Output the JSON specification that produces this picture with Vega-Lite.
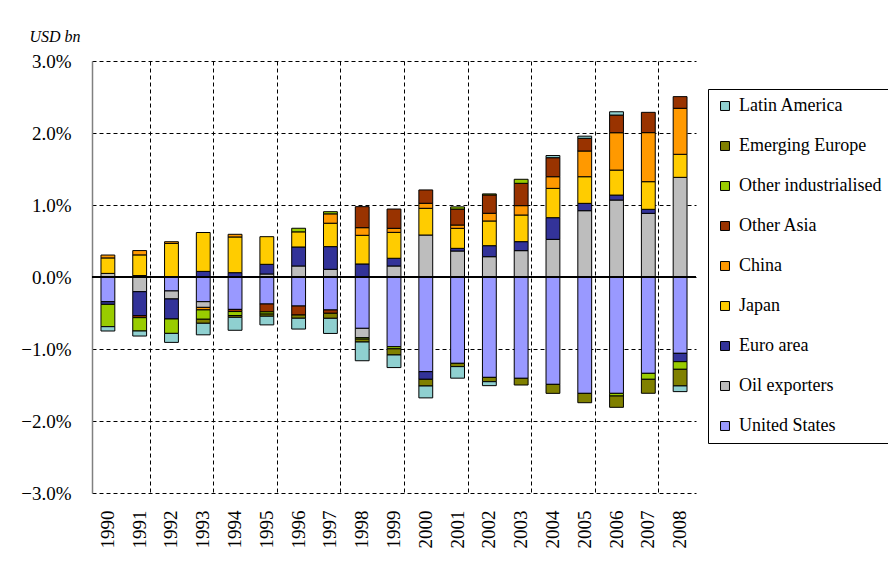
{
  "$schema": "https://vega.github.io/schema/vega-lite/v6.json",
  "width": 604,
  "height": 432,
  "autosize": "none",
  "padding": {"left": 92, "top": 61, "right": 192, "bottom": 71},
  "background": "white",
  "config": {"view": {"stroke": null}, "font": "Times New Roman, Liberation Serif, serif"},
  "datasets": {
    "regions": [
      {"region": "United States", "rank": 1},
      {"region": "Oil exporters", "rank": 2},
      {"region": "Euro area", "rank": 3},
      {"region": "Japan", "rank": 4},
      {"region": "China", "rank": 5},
      {"region": "Other Asia", "rank": 6},
      {"region": "Other industrialised", "rank": 7},
      {"region": "Emerging Europe", "rank": 8},
      {"region": "Latin America", "rank": 9}
    ],
    "cab": [
      {"year": "1990", "region": "United States", "value": -0.343},
      {"year": "1990", "region": "Oil exporters", "value": 0.05},
      {"year": "1990", "region": "Euro area", "value": -0.037},
      {"year": "1990", "region": "Japan", "value": 0.215},
      {"year": "1990", "region": "China", "value": 0.04},
      {"year": "1990", "region": "Other industrialised", "value": -0.31},
      {"year": "1990", "region": "Latin America", "value": -0.06},

      {"year": "1991", "region": "United States", "value": 0.02},
      {"year": "1991", "region": "Oil exporters", "value": -0.204},
      {"year": "1991", "region": "Euro area", "value": -0.333},
      {"year": "1991", "region": "Japan", "value": 0.287},
      {"year": "1991", "region": "China", "value": 0.06},
      {"year": "1991", "region": "Other Asia", "value": -0.028},
      {"year": "1991", "region": "Other industrialised", "value": -0.185},
      {"year": "1991", "region": "Latin America", "value": -0.07},

      {"year": "1992", "region": "United States", "value": -0.194},
      {"year": "1992", "region": "Oil exporters", "value": -0.111},
      {"year": "1992", "region": "Euro area", "value": -0.278},
      {"year": "1992", "region": "Japan", "value": 0.467},
      {"year": "1992", "region": "China", "value": 0.023},
      {"year": "1992", "region": "Other industrialised", "value": -0.2},
      {"year": "1992", "region": "Latin America", "value": -0.125},

      {"year": "1993", "region": "United States", "value": -0.343},
      {"year": "1993", "region": "Oil exporters", "value": -0.079},
      {"year": "1993", "region": "Euro area", "value": 0.078},
      {"year": "1993", "region": "Japan", "value": 0.54},
      {"year": "1993", "region": "China", "value": -0.035},
      {"year": "1993", "region": "Other industrialised", "value": -0.13},
      {"year": "1993", "region": "Emerging Europe", "value": -0.056},
      {"year": "1993", "region": "Latin America", "value": -0.16},

      {"year": "1994", "region": "United States", "value": -0.45},
      {"year": "1994", "region": "Euro area", "value": 0.06},
      {"year": "1994", "region": "Japan", "value": 0.496},
      {"year": "1994", "region": "China", "value": 0.037},
      {"year": "1994", "region": "Other Asia", "value": -0.03},
      {"year": "1994", "region": "Other industrialised", "value": -0.055},
      {"year": "1994", "region": "Emerging Europe", "value": -0.025},
      {"year": "1994", "region": "Latin America", "value": -0.18},

      {"year": "1995", "region": "United States", "value": -0.375},
      {"year": "1995", "region": "Oil exporters", "value": 0.042},
      {"year": "1995", "region": "Euro area", "value": 0.134},
      {"year": "1995", "region": "Japan", "value": 0.384},
      {"year": "1995", "region": "Other Asia", "value": -0.11},
      {"year": "1995", "region": "Other industrialised", "value": -0.03},
      {"year": "1995", "region": "Emerging Europe", "value": -0.03},
      {"year": "1995", "region": "Latin America", "value": -0.12},

      {"year": "1996", "region": "United States", "value": -0.403},
      {"year": "1996", "region": "Oil exporters", "value": 0.153},
      {"year": "1996", "region": "Euro area", "value": 0.264},
      {"year": "1996", "region": "Japan", "value": 0.21},
      {"year": "1996", "region": "Other Asia", "value": -0.125},
      {"year": "1996", "region": "Other industrialised", "value": 0.05},
      {"year": "1996", "region": "Emerging Europe", "value": -0.045},
      {"year": "1996", "region": "Latin America", "value": -0.15},

      {"year": "1997", "region": "United States", "value": -0.458},
      {"year": "1997", "region": "Oil exporters", "value": 0.107},
      {"year": "1997", "region": "Euro area", "value": 0.315},
      {"year": "1997", "region": "Japan", "value": 0.325},
      {"year": "1997", "region": "China", "value": 0.13},
      {"year": "1997", "region": "Other Asia", "value": -0.046},
      {"year": "1997", "region": "Other industrialised", "value": 0.03},
      {"year": "1997", "region": "Emerging Europe", "value": -0.07},
      {"year": "1997", "region": "Latin America", "value": -0.21},

      {"year": "1998", "region": "United States", "value": -0.713},
      {"year": "1998", "region": "Oil exporters", "value": -0.13},
      {"year": "1998", "region": "Euro area", "value": 0.181},
      {"year": "1998", "region": "Japan", "value": 0.398},
      {"year": "1998", "region": "China", "value": 0.106},
      {"year": "1998", "region": "Other Asia", "value": 0.292},
      {"year": "1998", "region": "Other industrialised", "value": -0.02},
      {"year": "1998", "region": "Emerging Europe", "value": -0.04},
      {"year": "1998", "region": "Latin America", "value": -0.26},

      {"year": "1999", "region": "United States", "value": -0.968},
      {"year": "1999", "region": "Oil exporters", "value": 0.153},
      {"year": "1999", "region": "Euro area", "value": 0.107},
      {"year": "1999", "region": "Japan", "value": 0.36},
      {"year": "1999", "region": "China", "value": 0.056},
      {"year": "1999", "region": "Other Asia", "value": 0.268},
      {"year": "1999", "region": "Other industrialised", "value": -0.03},
      {"year": "1999", "region": "Emerging Europe", "value": -0.085},
      {"year": "1999", "region": "Latin America", "value": -0.175},

      {"year": "2000", "region": "United States", "value": -1.315},
      {"year": "2000", "region": "Oil exporters", "value": 0.583},
      {"year": "2000", "region": "Euro area", "value": -0.106},
      {"year": "2000", "region": "Japan", "value": 0.371},
      {"year": "2000", "region": "China", "value": 0.07},
      {"year": "2000", "region": "Other Asia", "value": 0.185},
      {"year": "2000", "region": "Emerging Europe", "value": -0.093},
      {"year": "2000", "region": "Latin America", "value": -0.165},

      {"year": "2001", "region": "United States", "value": -1.199},
      {"year": "2001", "region": "Oil exporters", "value": 0.361},
      {"year": "2001", "region": "Euro area", "value": 0.037},
      {"year": "2001", "region": "Japan", "value": 0.278},
      {"year": "2001", "region": "China", "value": 0.046},
      {"year": "2001", "region": "Other Asia", "value": 0.222},
      {"year": "2001", "region": "Other industrialised", "value": 0.03},
      {"year": "2001", "region": "Emerging Europe", "value": -0.046},
      {"year": "2001", "region": "Latin America", "value": -0.16},

      {"year": "2002", "region": "United States", "value": -1.394},
      {"year": "2002", "region": "Oil exporters", "value": 0.282},
      {"year": "2002", "region": "Euro area", "value": 0.153},
      {"year": "2002", "region": "Japan", "value": 0.343},
      {"year": "2002", "region": "China", "value": 0.107},
      {"year": "2002", "region": "Other Asia", "value": 0.255},
      {"year": "2002", "region": "Other industrialised", "value": 0.014},
      {"year": "2002", "region": "Emerging Europe", "value": -0.06},
      {"year": "2002", "region": "Latin America", "value": -0.055},

      {"year": "2003", "region": "United States", "value": -1.407},
      {"year": "2003", "region": "Oil exporters", "value": 0.366},
      {"year": "2003", "region": "Euro area", "value": 0.125},
      {"year": "2003", "region": "Japan", "value": 0.37},
      {"year": "2003", "region": "China", "value": 0.13},
      {"year": "2003", "region": "Other Asia", "value": 0.31},
      {"year": "2003", "region": "Other industrialised", "value": 0.056},
      {"year": "2003", "region": "Emerging Europe", "value": -0.093},

      {"year": "2004", "region": "United States", "value": -1.491},
      {"year": "2004", "region": "Oil exporters", "value": 0.523},
      {"year": "2004", "region": "Euro area", "value": 0.301},
      {"year": "2004", "region": "Japan", "value": 0.407},
      {"year": "2004", "region": "China", "value": 0.162},
      {"year": "2004", "region": "Other Asia", "value": 0.264},
      {"year": "2004", "region": "Emerging Europe", "value": -0.125},
      {"year": "2004", "region": "Latin America", "value": 0.03},

      {"year": "2005", "region": "United States", "value": -1.616},
      {"year": "2005", "region": "Oil exporters", "value": 0.921},
      {"year": "2005", "region": "Euro area", "value": 0.102},
      {"year": "2005", "region": "Japan", "value": 0.37},
      {"year": "2005", "region": "China", "value": 0.357},
      {"year": "2005", "region": "Other Asia", "value": 0.176},
      {"year": "2005", "region": "Emerging Europe", "value": -0.13},
      {"year": "2005", "region": "Latin America", "value": 0.03},

      {"year": "2006", "region": "United States", "value": -1.616},
      {"year": "2006", "region": "Oil exporters", "value": 1.069},
      {"year": "2006", "region": "Euro area", "value": 0.069},
      {"year": "2006", "region": "Japan", "value": 0.347},
      {"year": "2006", "region": "China", "value": 0.519},
      {"year": "2006", "region": "Other Asia", "value": 0.245},
      {"year": "2006", "region": "Other industrialised", "value": -0.037},
      {"year": "2006", "region": "Emerging Europe", "value": -0.157},
      {"year": "2006", "region": "Latin America", "value": 0.046},

      {"year": "2007", "region": "United States", "value": -1.338},
      {"year": "2007", "region": "Oil exporters", "value": 0.884},
      {"year": "2007", "region": "Euro area", "value": 0.056},
      {"year": "2007", "region": "Japan", "value": 0.384},
      {"year": "2007", "region": "China", "value": 0.681},
      {"year": "2007", "region": "Other Asia", "value": 0.282},
      {"year": "2007", "region": "Other industrialised", "value": -0.083},
      {"year": "2007", "region": "Emerging Europe", "value": -0.194},

      {"year": "2008", "region": "United States", "value": -1.06},
      {"year": "2008", "region": "Oil exporters", "value": 1.384},
      {"year": "2008", "region": "Euro area", "value": -0.116},
      {"year": "2008", "region": "Japan", "value": 0.32},
      {"year": "2008", "region": "China", "value": 0.639},
      {"year": "2008", "region": "Other Asia", "value": 0.162},
      {"year": "2008", "region": "Other industrialised", "value": -0.106},
      {"year": "2008", "region": "Emerging Europe", "value": -0.231},
      {"year": "2008", "region": "Latin America", "value": -0.079}
    ]
  },
  "data": {"name": "cab"},
  "transform": [
    {"lookup": "region", "from": {"data": {"name": "regions"}, "key": "region", "fields": ["rank"]}}
  ],
  "layer": [
    {
      "mark": {"type": "bar", "stroke": "black", "strokeWidth": 1, "width": {"band": 0.66}},
      "encoding": {
        "x": {
          "field": "year", "type": "ordinal",
          "scale": {"paddingInner": 0.34, "paddingOuter": 0.17},
          "axis": {
            "title": null,
            "labelAngle": -90,
            "labelFont": "Times New Roman, Liberation Serif, serif",
            "labelFontSize": 19,
            "labelColor": "black",
            "labelPadding": 17,
            "ticks": false,
            "tickSize": 0,
            "domain": false,
            "grid": true,
            "bandPosition": 1,
            "gridColor": "black",
            "gridDash": [4, 3],
            "gridWidth": 1,
            "gridOpacity": {"condition": {"test": "toNumber(datum.value) % 2 === 1 && toNumber(datum.value) < 2008", "value": 1}, "value": 0}
          }
        },
        "y": {
          "field": "value", "type": "quantitative", "stack": "zero",
          "scale": {"domain": [-3, 3], "nice": false},
          "axis": {
            "values": [-3, -2.5, -2, -1.5, -1, -0.5, 0, 0.5, 1, 1.5, 2, 2.5, 3],
            "labelExpr": "format(datum.value, '.1f') + '%'",
            "labelFont": "Times New Roman, Liberation Serif, serif",
            "labelFontSize": 19,
            "labelColor": "black",
            "labelPadding": 21,
            "ticks": false,
            "tickSize": 0,
            "domain": true,
            "domainColor": "#808080",
            "domainWidth": 1.5,
            "grid": true,
            "gridColor": "black",
            "gridDash": [4, 3],
            "gridWidth": 1,
            "title": "USD bn",
            "titleFont": "Times New Roman, Liberation Serif, serif",
            "titleFontStyle": "italic",
            "titleFontWeight": "normal",
            "titleFontSize": 16,
            "titleColor": "black",
            "titleAngle": 0,
            "titleAlign": "left",
            "titleBaseline": "alphabetic",
            "titleX": -63,
            "titleY": -20
          }
        },
        "order": {"field": "rank", "type": "quantitative", "sort": "ascending"},
        "color": {
          "field": "region", "type": "nominal",
          "sort": ["Latin America", "Emerging Europe", "Other industrialised", "Other Asia", "China", "Japan", "Euro area", "Oil exporters", "United States"],
          "scale": {"range": ["#8FD0D0", "#808000", "#99CC00", "#993300", "#FF9900", "#FFCC00", "#333399", "#BDBDBD", "#9999FF"]},
          "legend": {
            "orient": "none",
            "legendX": 616,
            "legendY": 28,
            "title": null,
            "symbolType": "square",
            "symbolSize": 80,
            "symbolStrokeColor": "black",
            "symbolStrokeWidth": 1,
            "labelFont": "Times New Roman, Liberation Serif, serif",
            "labelFontSize": 18,
            "labelColor": "black",
            "labelOffset": 5,
            "labelLimit": 300,
            "rowPadding": 22,
            "padding": 8,
            "strokeColor": "black",
            "fillColor": "white"
          }
        }
      }
    },
    {
      "mark": {"type": "rule", "color": "black", "strokeWidth": 1.5},
      "encoding": {"y": {"datum": 0}}
    }
  ]
}
